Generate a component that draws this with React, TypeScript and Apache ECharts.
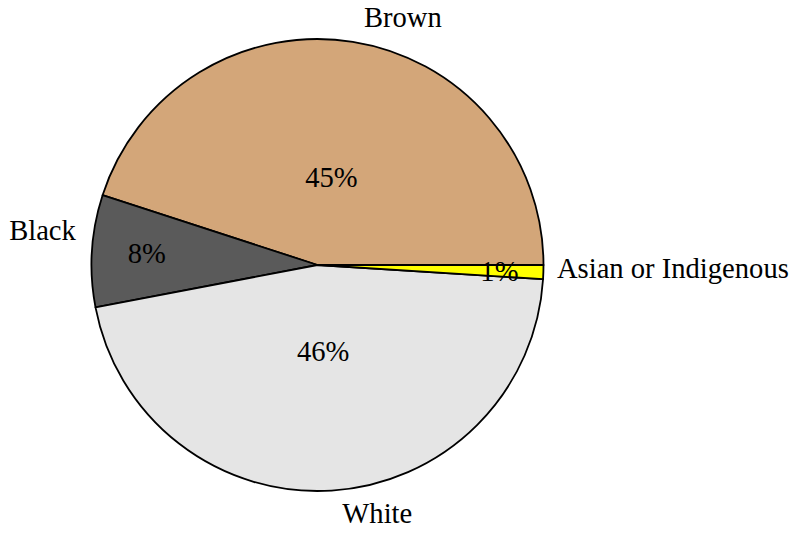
import React, { useEffect, useRef } from "react";
import * as echarts from "echarts";

// Population shares by colour/race group (percent)
const groups = ["Brown", "Black", "White", "Asian or Indigenous"];
const shares = [45, 8, 46, 1];
const sliceColors = ["#D3A679", "#5A5A5A", "#E5E5E5", "#FFFF00"];

// Percent labels sit at two different depths inside the pie
const nearPctGroups = ["Brown", "White"];
const farPctGroups = ["Black", "Asian or Indigenous"];

// Nudges for the category names placed around the rim
const nameOffsets: Record<string, [number, number]> = {
  Brown: [46, 1],
  Black: [-24, -19],
  White: [44, -3],
  "Asian or Indigenous": [104, -4],
};
const pctOffsets: Record<string, [number, number]> = {
  Brown: [0, 0],
  White: [0, -2],
  Black: [7, 0],
  "Asian or Indigenous": [4, 1],
};

const FONT = "'Liberation Serif', 'Times New Roman', serif";
const FONT_SIZE = 28.6;
const CENTER: [number, number] = [317.5, 265];
const R = 226;

function labelSeries(
  radius: number,
  shown: string[],
  formatter: string,
  offsets: Record<string, [number, number]>
) {
  return {
    type: "pie",
    center: CENTER,
    radius: [0, radius],
    startAngle: 0,
    clockwise: false,
    silent: true,
    avoidLabelOverlap: false,
    percentPrecision: 0,
    z: 5,
    itemStyle: { color: "transparent", borderWidth: 0 },
    labelLine: { show: false },
    emphasis: { disabled: true },
    data: groups.map((g, i) => ({
      name: g,
      value: shares[i],
      label: {
        show: shown.includes(g),
        position: "inside",
        formatter,
        offset: offsets[g] || [0, 0],
        color: "#000",
        fontFamily: FONT,
        fontSize: FONT_SIZE,
      },
    })),
  };
}

export default function App() {
  const ref = useRef<HTMLDivElement>(null);

  useEffect(() => {
    if (!ref.current) return;
    const chart = echarts.init(ref.current, null, { renderer: "svg" });
    chart.setOption({
      animation: false,
      backgroundColor: "#ffffff",
      series: [
        {
          type: "pie",
          center: CENTER,
          radius: [0, R],
          startAngle: 0,
          clockwise: false,
          silent: true,
          z: 2,
          label: { show: false },
          labelLine: { show: false },
          emphasis: { disabled: true },
          itemStyle: { borderColor: "#000", borderWidth: 1.8 },
          data: groups.map((g, i) => ({
            name: g,
            value: shares[i],
            itemStyle: { color: sliceColors[i] },
          })),
        },
        labelSeries(172, nearPctGroups, "{d}%", pctOffsets),
        labelSeries(350, farPctGroups, "{d}%", pctOffsets),
        labelSeries(497, groups, "{b}", nameOffsets),
      ],
    });
    return () => chart.dispose();
  }, []);

  return (
    <div
      ref={ref}
      style={{ position: "absolute", left: 0, top: 0, width: 796, height: 533 }}
    />
  );
}
